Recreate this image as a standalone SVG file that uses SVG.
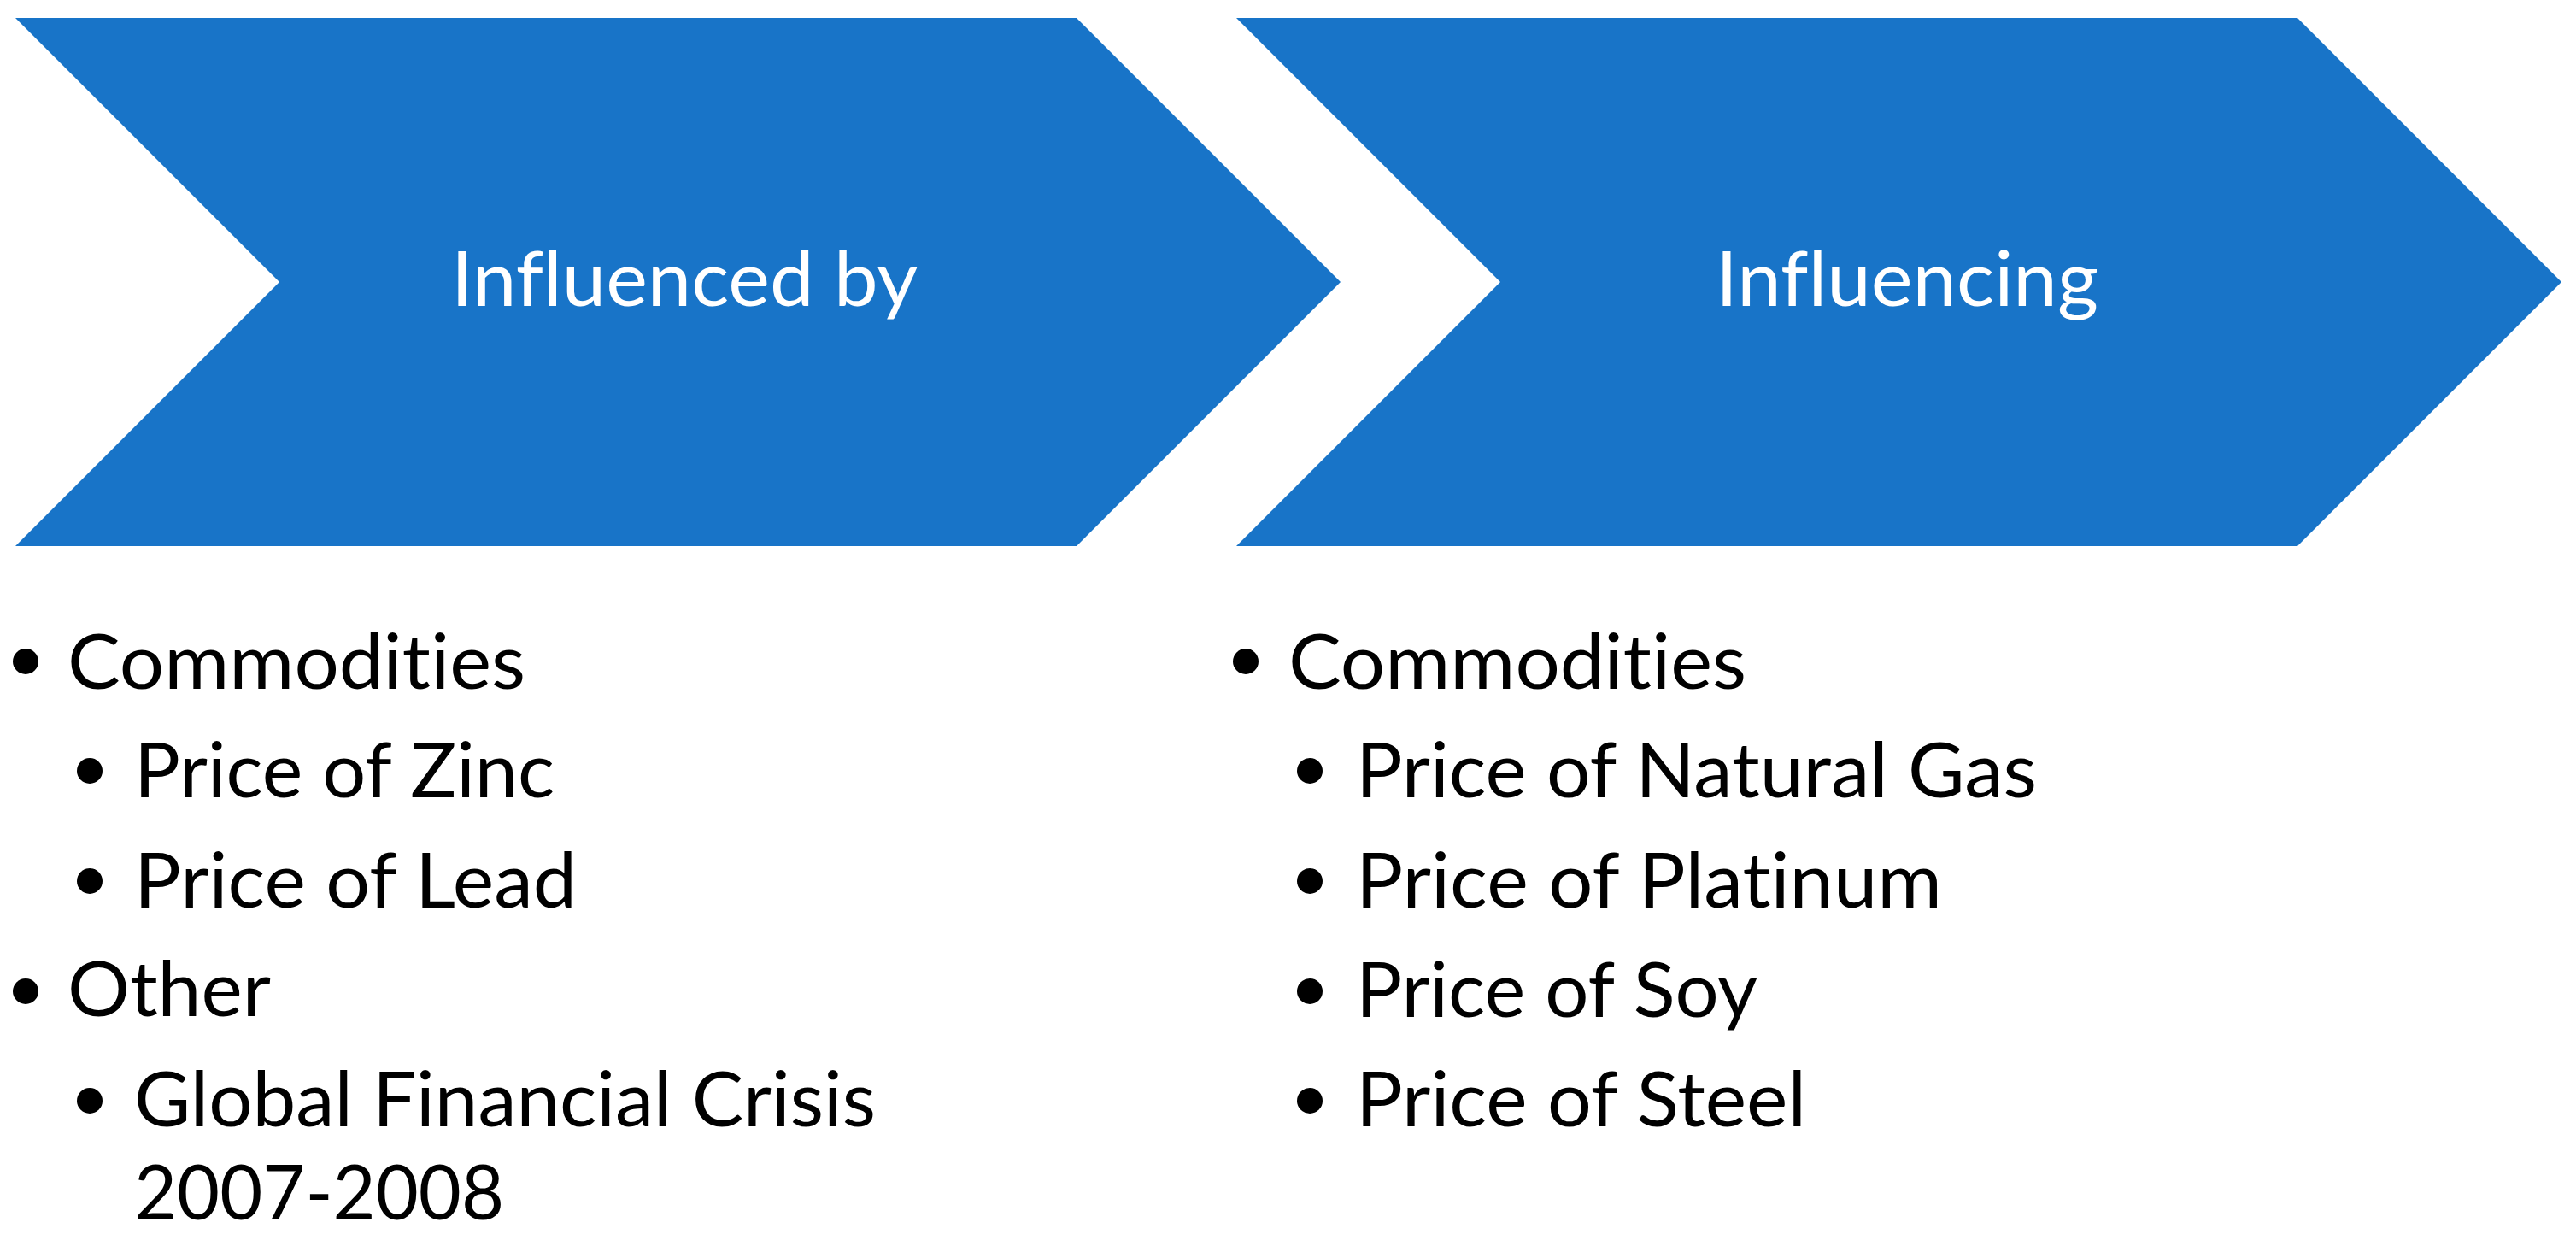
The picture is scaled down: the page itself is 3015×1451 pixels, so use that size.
<svg xmlns="http://www.w3.org/2000/svg" width="3015" height="1451" viewBox="0 0 3015 1451">
  <style>
    .chev { fill: #1874c8; }
    .title { font-family: Lato, "Open Sans", "Noto Sans", sans-serif; font-size: 89px; fill: #ffffff; font-variant-ligatures: none; }
    .item { font-family: Lato, "Open Sans", "Noto Sans", sans-serif; font-size: 89px; fill: #000000; font-variant-ligatures: none; }
    .dot { fill: #000000; }
  </style>
  <rect x="0" y="0" width="3015" height="1451" fill="#ffffff"/>

  <g id="node-influenced-by">
    <polygon class="chev" points="18,21 1260,21 1569,330 1260,639 18,639 327,330"/>
    <text class="title" x="528" y="358" textLength="546" lengthAdjust="spacingAndGlyphs">Influenced by</text>
  </g>

  <g id="node-influencing">
    <polygon class="chev" points="1447,21 2689,21 2998,330 2689,639 1447,639 1756,330"/>
    <text class="title" x="2008" y="358" textLength="448" lengthAdjust="spacingAndGlyphs">Influencing</text>
  </g>

  <g id="connectors"></g>

  <g id="list-influenced-by">
    <circle class="dot" cx="30" cy="774" r="15"/>
    <text class="item" x="79" y="806" textLength="536" lengthAdjust="spacingAndGlyphs">Commodities</text>
    <circle class="dot" cx="105" cy="902" r="15"/>
    <text class="item" x="157" y="933" textLength="492" lengthAdjust="spacingAndGlyphs">Price of Zinc</text>
    <circle class="dot" cx="105" cy="1031" r="15"/>
    <text class="item" x="157" y="1062" textLength="518" lengthAdjust="spacingAndGlyphs">Price of Lead</text>
    <circle class="dot" cx="30" cy="1160" r="15"/>
    <text class="item" x="79" y="1189" textLength="238" lengthAdjust="spacingAndGlyphs">Other</text>
    <circle class="dot" cx="105" cy="1288" r="15"/>
    <text class="item" x="157" y="1318" textLength="868" lengthAdjust="spacingAndGlyphs">Global Financial Crisis</text>
    <text class="item" x="157" y="1427" textLength="433" lengthAdjust="spacingAndGlyphs">2007-2008</text>
  </g>

  <g id="list-influencing">
    <circle class="dot" cx="1458" cy="774" r="15"/>
    <text class="item" x="1508" y="806" textLength="536" lengthAdjust="spacingAndGlyphs">Commodities</text>
    <circle class="dot" cx="1533" cy="902" r="15"/>
    <text class="item" x="1587" y="933" textLength="797" lengthAdjust="spacingAndGlyphs">Price of Natural Gas</text>
    <circle class="dot" cx="1533" cy="1031" r="15"/>
    <text class="item" x="1587" y="1062" textLength="686" lengthAdjust="spacingAndGlyphs">Price of Platinum</text>
    <circle class="dot" cx="1533" cy="1160" r="15"/>
    <text class="item" x="1587" y="1190" textLength="470" lengthAdjust="spacingAndGlyphs">Price of Soy</text>
    <circle class="dot" cx="1533" cy="1288" r="15"/>
    <text class="item" x="1587" y="1318" textLength="527" lengthAdjust="spacingAndGlyphs">Price of Steel</text>
  </g>
</svg>
